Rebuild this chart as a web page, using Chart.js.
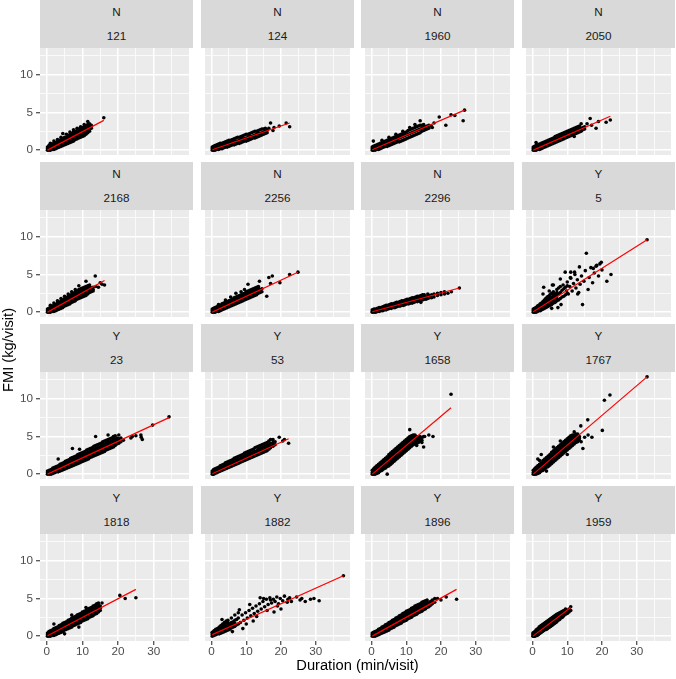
<!DOCTYPE html>
<html>
<head>
<meta charset="utf-8">
<script src="https://cdn.jsdelivr.net/npm/chart.js@4.4.1/dist/chart.umd.min.js"></script>
<style>
  body { margin: 0; background: #fff; width: 676px; height: 679px; position: relative; overflow: hidden;
         font-family: "Liberation Sans", Arial, sans-serif; }
  .strip { position: absolute; background: #D9D9D9; color: #1A1A1A; font-size: 11.7px; text-align: center; }
  .strip div { height: 24px; line-height: 24px; }
  canvas { position: absolute; }
  .axtitle { position: absolute; font-size: 14.7px; color: #000; white-space: nowrap; transform: translate(-50%, -50%); }
</style>
</head>
<body>
<script>
// facet labels
const groups = ['N', 'N', 'N', 'N', 'N', 'N', 'N', 'Y', 'Y', 'Y', 'Y', 'Y', 'Y', 'Y', 'Y', 'Y'];
const ids = ['121', '124', '1960', '2050', '2168', '2256', '2296', '5', '23', '53', '1658', '1767', '1818', '1882', '1896', '1959'];

const xTicks = [0, 5, 10, 15, 20, 25, 30, 35];
const yTicks = [0, 2.5, 5, 7.5, 10, 12.5];

// points, one row per duration: [duration, FMI, FMI, ...]
const c121 = [[0.2,0.0,0.2,0.4],[0.6,0.0,0.2,0.4,0.6],[1.0,0.0,0.2,0.5,0.7,0.9],[1.5,0.1,0.3,0.6,0.8],[2.0,0.1,0.4,0.6,0.9,1.2],[2.5,0.2,0.5,0.8,1.0],[3.0,0.3,0.6,0.9,1.1,1.4],[3.5,0.4,0.7,1.0,1.3],[4.0,0.5,0.8,1.1,1.4,1.7],[4.5,0.6,0.9,1.2,1.5,2.2],[5.0,0.7,1.0,1.3,1.5,1.7],[5.5,0.8,1.1,1.4,1.7,2.1],[6.0,0.9,1.2,1.5,1.7,1.9],[6.5,1.0,1.3,1.6,1.9,2.1,2.4],[7.0,1.1,1.4,1.7,2.0,2.2],[7.5,1.2,1.5,1.8,2.1,2.4,2.7],[8.0,1.4,1.7,1.9,2.2,2.5],[8.5,1.5,1.8,2.1,2.4,2.6,2.9],[9.0,1.6,1.9,2.2,2.5,2.8],[9.5,1.7,2.0,2.3,2.6,2.9,3.1],[10,1.8,2.1,2.4,2.7,3.0],[10.5,1.9,2.2,2.6,2.9,3.1,3.4],[11,2.1,2.4,2.7,3.0,3.2],[11.5,2.3,2.6,2.9,3.2,3.4,3.8],[12,2.5,2.8,3.0,3.3,3.5],[12.5,2.9,3.1,3.3],[16,4.3]];
const c124 = [[0.2,0.0,0.2,0.4],[0.6,0.0,0.2,0.5],[1.0,0.0,0.3,0.6],[1.5,0.1,0.4,0.7],[2.0,0.1,0.4,0.8],[2.5,0.2,0.5,0.9],[3.0,0.2,0.6,0.9],[3.5,0.3,0.6,1.0],[4.0,0.4,0.7,1.1],[4.5,0.4,0.8,1.2],[5.0,0.5,0.9,1.3],[5.5,0.6,0.9,1.3],[6.0,0.7,1.0,1.4],[6.5,0.7,1.1,1.5],[7.0,0.8,1.2,1.6],[7.5,0.9,1.2,1.7],[8.0,0.9,1.3,1.7],[8.5,1.0,1.4,1.8],[9.0,1.1,1.5,1.9],[9.5,1.2,1.5,2.0],[10,1.2,1.6,2.1],[10.5,1.3,1.7,2.1],[11,1.4,1.8,2.2],[11.5,1.5,1.8,2.3],[12,1.6,1.9,2.4],[12.5,1.6,2.0,2.5],[13,1.7,2.1,2.5],[13.5,1.8,2.2,2.6],[14,1.9,2.2,2.7],[14.5,2.0,2.3,2.8],[15,2.1,2.4,2.8],[15.5,2.2,2.5,2.9],[16,2.3,2.6],[16.5,2.9],[17,3.6],[17.7,2.6],[18,3.0],[19.5,3.2],[21.5,3.6],[22.5,3.1]];
const c1960 = [[0.2,0.0,0.2,0.4],[0.5,0.0,0.2,0.5,1.2],[1.0,0.0,0.3,0.6],[1.5,0.1,0.4,0.7],[2.0,0.1,0.5,0.8],[2.5,0.2,0.6,0.9],[3.0,0.3,0.7,1.0,1.3],[3.5,0.4,0.7,1.1],[4.0,0.5,0.8,1.2],[4.5,0.5,0.9,1.3],[5.0,0.6,1.0,1.4,1.7],[5.5,0.7,1.1,1.5],[6.0,0.8,1.2,1.6],[6.5,0.9,1.3,1.7],[7.0,1.0,1.4,1.8,2.1],[7.5,1.1,1.5,1.9],[8.0,1.1,1.6,2.0],[8.5,1.2,1.7,2.1],[9.0,1.3,1.8,2.2,2.5],[9.5,1.4,1.9,2.3],[10,1.5,2.0,2.4],[10.5,1.6,2.1,2.6],[11,1.7,2.2,2.7,3.0],[11.5,1.8,2.3,2.8],[12,1.9,2.4,2.9],[12.5,2.0,2.5,3.0,3.4],[13,2.1,2.6,3.1],[13.5,2.2,2.7,3.2],[14,2.3,2.8,3.3,3.9],[14.5,2.5,2.9,3.3],[15,2.6,3.0,3.4],[15.5,2.7,3.1],[16,2.8,3.2],[16.5,2.9,3.3],[17.2,3.2],[17.5,3.0],[18,3.6],[19.5,4.4],[21.4,3.3],[22.9,4.7],[24,4.6],[26.4,3.9],[26.8,5.3]];
const c2050 = [[0.2,0.0,0.2,0.4],[0.6,0.0,0.3,0.5],[1.0,0.0,0.3,0.6,1.0],[1.5,0.1,0.4,0.7],[2.0,0.1,0.5,0.8],[2.5,0.2,0.6,0.9],[3.0,0.3,0.7,1.0],[3.5,0.4,0.8,1.1],[4.0,0.5,0.9,1.2],[4.5,0.6,1.0,1.3],[5.0,0.7,1.1,1.4],[5.5,0.8,1.2,1.5],[6.0,0.9,1.3,1.6],[6.5,1.0,1.4,1.8],[7.0,1.1,1.5,1.9],[7.5,1.2,1.6,2.0],[8.0,1.3,1.7,2.1],[8.5,1.4,1.8,2.2],[9.0,1.5,1.9,2.3],[9.5,1.6,2.0,2.4],[10,1.7,2.1,2.5],[10.5,1.8,2.2,2.6],[11,1.9,2.3,2.7],[11.5,2.0,2.4,2.8],[12,1.8,2.1,2.5,2.9],[12.5,2.2,2.6,3.0],[13,2.3,2.7,3.1],[13.5,2.4,2.8,3.2],[14,2.5,2.9,3.5],[14.5,2.7,3.0],[15,2.8,3.1],[15.7,3.5],[16.6,4.2],[17,3.3],[18.3,2.9],[19,3.8],[21.2,3.7],[22.4,4.0]];
const c2168 = [[0.2,0.0,0.2,0.4],[0.6,0.0,0.2,0.4,0.5],[1.0,0.0,0.2,0.4,0.6,0.9],[1.5,0.1,0.3,0.5,0.8],[2.0,0.1,0.3,0.5,0.7,0.9,1.2],[2.5,0.2,0.4,0.6,0.8,1.0],[3.0,0.3,0.5,0.8,1.0,1.2,1.5],[3.5,0.4,0.6,0.9,1.1,1.3],[4.0,0.5,0.8,1.0,1.3,1.5,1.8],[4.5,0.6,0.9,1.2,1.4,1.6],[5.0,0.8,1.0,1.3,1.6,1.8,2.1],[5.5,0.9,1.1,1.4,1.7,1.9],[6.0,1.0,1.3,1.6,1.9,2.1,2.4],[6.5,1.1,1.4,1.7,2.0,2.2],[7.0,1.3,1.5,1.8,2.1,2.4,2.7],[7.5,1.4,1.7,2.0,2.3,2.5],[8.0,1.5,1.8,2.1,2.4,2.7,3.0],[8.5,1.7,1.9,2.2,2.5,2.8],[9.0,1.8,2.1,2.4,2.7,3.0,3.5],[9.5,1.9,2.2,2.5,2.8,3.1],[10,2.0,2.3,2.6,2.9,3.2],[10.5,2.1,2.4,2.7,3.0,3.3],[11,2.2,2.5,2.8,3.1,3.4,4.1],[11.5,2.4,2.7,3.0,3.3,3.5],[12,2.6,2.8,3.1,3.4,3.6],[12.5,2.7,3.0,3.2],[13,2.8,3.0,3.3],[13.6,4.8],[13.8,3.4],[14.5,3.3],[15,3.9],[15.5,3.7],[16.2,3.6]];
const c2256 = [[0.2,0.0,0.2,0.4],[0.6,0.0,0.2,0.5],[1.0,0.0,0.3,0.6],[1.5,0.1,0.4,0.7],[2.0,0.1,0.5,0.8,1.0],[2.5,0.2,0.4,0.6,0.9],[3.0,0.3,0.5,0.7,0.9,1.1],[3.5,0.4,0.6,0.8,1.0,1.2],[4.0,0.5,0.7,0.9,1.1,1.3,1.6],[4.5,0.6,0.8,1.0,1.2,1.4],[5.0,0.7,0.9,1.1,1.3,1.5],[5.5,0.8,1.0,1.2,1.4,1.6,2.0],[6.0,0.9,1.1,1.3,1.5,1.7],[6.5,1.0,1.2,1.4,1.7,1.9],[7.0,1.1,1.3,1.5,1.8,2.0,2.5],[7.5,1.2,1.4,1.6,1.9,2.1],[8.0,1.3,1.5,1.7,2.0,2.2],[8.5,1.4,1.6,1.8,2.1,2.3,2.7],[9.0,1.5,1.7,1.9,2.2,2.4],[9.5,1.6,1.8,2.0,2.3,2.5,3.0],[10,1.7,1.9,2.1,2.4,2.7],[10.5,1.8,2.0,2.2,2.5,2.8,3.7],[11,1.9,2.1,2.3,2.6,2.9],[11.5,2.0,2.2,2.5,2.8,3.0],[12,2.1,2.3,2.6,2.9,3.1],[12.5,2.2,2.4,2.7,3.0,3.2],[13,2.3,2.5,2.8,3.1,3.3],[13.5,2.5,2.7,2.9,3.2,3.4],[14,2.6,2.8,3.0],[14.5,2.7,3.1],[13.8,4.1],[15.9,2.1],[16.5,4.6],[17,3.8],[17.5,4.8],[19.7,3.9],[22.5,5.0],[24.9,5.3]];
const c2296 = [[0.2,0.0,0.1,0.3],[0.7,0.0,0.2,0.4],[1.2,0.0,0.2,0.4],[1.7,0.1,0.3,0.5],[2.2,0.1,0.3,0.6],[2.7,0.2,0.4,0.6],[3.2,0.2,0.5,0.7],[3.7,0.3,0.5,0.8],[4.2,0.3,0.6,0.9],[4.7,0.4,0.7,0.9],[5.2,0.5,0.7,1.0],[5.7,0.5,0.8,1.1],[6.2,0.6,0.8,1.1],[6.7,0.6,0.9,1.2],[7.2,0.7,1.0,1.3],[7.7,0.8,1.0,1.3],[8.2,0.8,1.1,1.4],[8.7,0.9,1.1,1.5],[9.2,0.9,1.2,1.5],[9.7,1.0,1.3,1.6],[10.2,1.1,1.3,1.7],[10.7,1.1,1.4,1.7],[11.2,1.2,1.5,1.8],[11.7,1.2,1.5,1.9],[12.2,1.3,1.6,1.9],[12.7,1.4,1.6,2.0],[13.2,1.4,1.7,2.1],[13.7,1.5,1.8,2.1],[14.2,1.3,1.8,2.2],[14.7,1.6,1.9,2.3],[15.2,1.7,2.0,2.3],[15.7,1.7,2.0],[16.2,1.8,2.1,2.4],[16.7,1.9,2.2],[17.3,1.9,2.3],[18,2.0,2.4],[19,2.2,2.5],[20,2.3,2.6],[21,2.4,2.7],[22,2.5],[23,2.7],[25.3,3.2]];
const c5 = [[0.2,0.0,0.2,0.4],[0.6,0.0,0.2,0.4,0.5],[1.0,0.0,0.2,0.4,0.6],[1.4,0.1,0.3,0.5,0.6,0.8],[1.8,0.2,0.4,0.5,0.7,0.9],[2.2,0.2,0.4,0.6,0.9,1.1],[2.6,0.3,0.5,0.8,1.0,1.2],[3.0,0.4,0.6,0.9,1.2,1.4,2.4],[3.2,3.3],[3.4,0.5,0.7,1.0,1.3,1.6],[3.8,0.6,0.9,1.2,1.5,1.8],[4.2,0.7,1.0,1.3,1.6,2.0],[4.6,0.8,1.1,1.4,1.7,2.1],[4.8,2.8],[5.0,0.9,1.2,1.6,1.9,2.3],[5.5,0.5,1.0,1.4,1.7,2.0,2.5],[5.7,3.6],[6.0,1.2,1.5,1.9,2.3,2.7,3.6],[6.5,1.3,1.6,2.0,2.4],[7.0,1.5,1.8,2.2,2.6,3.0],[7.3,0.6],[7.5,1.6,2.4,3.2],[8.0,1.8,2.6,3.4,4.4],[8.2,1.0],[8.5,2.0,2.9],[8.8,3.6],[9.0,2.1,3.1],[9.4,5.3],[9.5,2.3,3.3],[9.8,2.8],[10,2.5,3.5,4.0],[10.3,2.4],[10.7,3.4],[10.9,4.6],[11,4.5,5.3],[11.4,2.8],[11.8,3.8],[12.1,5.3],[12.2,5.0],[12.5,3.2],[12.9,4.3],[13.0,2.4],[13.3,2.6],[13.5,6.0],[13.7,3.7],[14.1,4.8],[14.4,1.0],[14.8,4.1],[15.2,5.5],[15.5,7.8],[16,3.0],[16.3,4.6],[16.8,5.9],[17.3,3.9],[17.5,5.8],[17.8,5.2],[18.3,6.1],[18.5,6.2],[19,4.8],[19.4,6.4],[19.8,6.6],[20,5.6],[21.4,4.1],[22.6,5.0],[33,9.6]];
const c23 = [[0.2,0.0,0.2,0.4],[0.7,0.0,0.2,0.4,0.5],[1.2,0.0,0.3,0.5,0.6],[1.7,0.1,0.4,0.6,0.8],[2.2,0.2,0.5,0.7,0.9],[2.7,0.3,0.6,0.8,1.0],[3.2,0.3,0.5,0.7,0.9,1.1,2.0],[3.7,0.4,0.6,0.8,1.0,1.3],[4.2,0.5,0.7,0.9,1.2,1.4],[4.7,0.6,0.8,1.0,1.3,1.5],[5.2,0.7,0.9,1.1,1.4,1.7],[5.7,0.8,1.0,1.3,1.5,1.8],[6.2,0.9,1.1,1.4,1.7,1.9],[6.7,1.0,1.2,1.5,1.8,2.1],[7.2,1.1,1.3,1.6,1.9,2.2,3.4],[7.7,1.2,1.4,1.7,2.0,2.3],[8.2,1.3,1.5,1.8,2.1,2.4],[8.7,1.4,1.6,1.9,2.2,2.6],[9.2,1.5,1.7,2.0,2.4,2.7,3.3],[9.7,1.6,1.8,2.1,2.5,2.8],[10.2,1.7,1.9,2.2,2.6,2.9],[10.7,1.8,2.1,2.4,2.7,3.0],[11.2,1.9,2.2,2.5,2.8,3.2],[11.7,2.0,2.3,2.6,2.9,3.3],[12.2,2.2,2.4,2.7,3.0,3.4],[12.7,2.3,2.5,2.8,3.2,3.5],[13.2,2.4,2.6,2.9,3.3,3.7],[13.7,2.5,2.7,3.0,3.4,3.8,5.0],[14.2,2.6,2.8,3.1,3.5,3.9],[14.7,2.7,2.9,3.2,3.6,4.0],[15.2,2.8,3.1,3.4,3.7,4.1],[15.7,2.9,3.2,3.5,3.9,4.3],[16.2,3.0,3.3,3.6,4.0,4.4],[16.7,3.2,3.4,3.7,4.1,4.5],[17.2,3.3,3.5,3.8,4.2,4.6,5.2],[17.7,3.4,3.6,3.9,4.3,4.7],[18.2,3.5,3.7,4.0,4.4,4.8],[18.7,3.6,3.9,4.2,4.6,5.0],[19.2,3.8,4.0,4.3,4.7,5.1],[19.7,4.0,4.2,4.5,4.8],[20.2,4.1,4.4,4.7,5.2],[20.8,4.3,4.8],[21.5,4.5],[23.6,4.8],[24,5.0],[25,5.1],[26.4,5.2],[26.5,4.9],[26.8,4.6],[29.7,6.5],[34.3,7.6]];
const c53 = [[0.2,0.0,0.2,0.4],[0.6,0.0,0.2,0.4,0.6],[1.0,0.1,0.3,0.5,0.7],[1.5,0.2,0.4,0.6,0.8],[2.0,0.3,0.5,0.7,0.9],[2.5,0.4,0.6,0.8,1.1],[3.0,0.5,0.7,0.9,1.2],[3.5,0.6,0.8,1.0,1.3],[4.0,0.7,0.9,1.2,1.5],[4.5,0.8,1.0,1.3,1.6],[5.0,0.9,1.1,1.4,1.7],[5.5,1.0,1.2,1.5,1.8],[6.0,1.1,1.3,1.6,1.9],[6.5,1.2,1.4,1.7,2.1],[7.0,1.3,1.5,1.8,2.2],[7.5,1.4,1.6,1.9,2.3],[8.0,1.5,1.7,2.0,2.4],[8.5,1.6,1.8,2.1,2.5],[9.0,1.7,1.9,2.3,2.6],[9.5,1.8,2.0,2.4,2.8],[10,1.9,2.1,2.5,2.9],[10.5,2.0,2.2,2.6,3.0],[11,2.1,2.3,2.7,3.1],[11.5,2.2,2.4,2.8,3.2],[12,2.3,2.5,2.9,3.3],[12.5,2.4,2.7,3.0,3.5],[13,2.5,2.8,3.1,3.6],[13.5,2.6,2.9,3.3,3.7],[14,2.7,3.0,3.4,3.8],[14.5,2.8,3.1,3.5,3.9],[15,2.9,3.2,3.6,4.0],[15.5,3.0,3.3,3.7,4.1],[16,3.1,3.4,3.8,4.2],[16.5,3.3,3.6,3.9,4.4],[17,3.5,3.7,4.1,4.6],[17.7,3.7,3.9,4.2,4.6],[18.3,3.9,4.3],[19.5,4.9],[20.5,4.4],[21,4.6],[22.2,4.1]];
const c1658 = [[0.2,0.0,0.2,0.5],[0.6,0.0,0.2,0.4,0.7],[1.0,0.0,0.2,0.4,0.7,0.9],[1.5,0.1,0.3,0.6,0.8,1.1],[2.0,0.2,0.5,0.8,1.0,1.3],[2.5,0.4,0.7,1.0,1.2,1.5],[3.0,0.5,0.8,1.1,1.4,1.7],[3.5,0.7,1.0,1.3,1.6,1.9],[4.0,0.8,1.1,1.5,1.8,2.1],[4.5,0.0,1.0,1.3,1.7,2.0,2.3],[5.0,1.1,1.5,1.9,2.2,2.6],[5.5,1.3,1.7,2.1,2.4,2.8],[6.0,1.5,1.9,2.3,2.6,3.0],[6.5,1.7,2.1,2.5,2.8,3.2],[7.0,1.9,2.3,2.7,3.0,3.4],[7.5,2.1,2.5,2.9,3.2,3.6],[8.0,2.3,2.7,3.1,3.4,3.8],[8.5,2.5,2.9,3.3,3.6,4.0],[9.0,2.7,3.1,3.5,3.8,4.2],[9.5,2.9,3.3,3.7,4.0,4.4],[10,3.1,3.5,3.9,4.2,4.6],[10.5,3.3,3.6,4.0,4.4,4.8],[11,3.5,3.8,4.2,4.6,5.0,5.9],[11.5,3.7,4.0,4.4,4.8,5.1],[12,3.9,4.2,4.6,4.9,5.2],[12.5,4.0,4.4,4.7,5.0,5.2],[13,3.8,4.1,4.4,4.7,5.0],[13.5,4.2,4.5,4.8],[14,4.4,4.7,5.0],[14.5,4.2,4.5,4.8],[15,3.6,5.0],[15.3,5.0],[16.5,5.2],[17.7,5.0],[22.9,10.6]];
const c1767 = [[0.2,0.0,0.2,0.5],[0.6,0.0,0.2,0.5,0.7],[1.0,0.0,0.2,0.4,0.7,0.9],[1.5,0.1,0.3,0.6,0.9,1.1,2.0],[2.0,0.2,0.5,0.8,1.1,1.3,1.8],[2.5,0.4,0.7,1.0,1.3,1.5,2.6],[3.0,0.5,0.8,1.2,1.5,1.8],[3.5,0.7,1.0,1.4,1.7,2.0],[4.0,0.4,0.9,1.2,1.6,1.9,2.2],[4.5,1.0,1.4,1.8,2.1,2.4],[5.0,1.2,1.6,1.9,2.3,2.6],[5.5,1.4,1.8,2.1,2.5,2.9],[6.0,1.6,2.0,2.3,2.7,3.1,3.6],[6.5,1.8,2.2,2.5,2.9,3.3],[7.0,2.0,2.4,2.7,3.1,3.5],[7.5,2.2,2.6,2.9,3.3,3.7],[8.0,2.4,2.8,3.1,3.5,3.9,4.4],[8.5,2.6,3.0,3.3,3.7,4.1],[9.0,2.8,3.2,3.5,3.9,4.3],[9.5,3.0,3.4,3.7,4.1,4.5],[10,2.6,3.2,3.6,3.9,4.3,4.7],[10.5,3.4,3.8,4.1,4.5,4.9],[11,3.6,4.0,4.3,4.7,5.1],[11.5,3.8,4.2,4.5,4.9,5.2],[12,4.0,4.4,4.7,5.0,5.2,5.6],[12.5,4.2,4.5,4.8,5.1,5.3],[13,4.3,4.6,4.9,5.3],[13.5,4.5,4.8,5.0],[13.9,6.4],[14,4.3],[14.5,3.4],[15,4.9],[15.9,7.2],[16,5.2],[17.1,4.9],[20.1,5.8],[20.7,9.8],[22.3,10.5],[33,12.9]];
const c1818 = [[0.2,0.0,0.2,0.4],[0.6,0.0,0.2,0.4,0.6],[1.0,0.0,0.2,0.4,0.7],[1.5,0.1,0.3,0.5,0.8],[2.0,0.1,0.3,0.5,0.8,1.0,1.6],[2.5,0.2,0.4,0.7,0.9,1.1],[3.0,0.3,0.5,0.8,1.0,1.2],[3.5,0.4,0.6,0.9,1.2,1.4],[4.0,0.5,0.7,1.0,1.3,1.5],[4.5,0.6,0.9,1.2,1.4,1.7],[5.0,0.3,0.8,1.0,1.3,1.6,1.8],[5.5,0.9,1.1,1.4,1.7,1.9],[6.0,1.0,1.2,1.5,1.8,2.1],[6.5,1.1,1.3,1.6,1.9,2.2],[7.0,1.2,1.5,1.8,2.1,2.4,2.8],[7.5,1.4,1.6,1.9,2.2,2.5],[8.0,1.5,1.7,2.0,2.3,2.6],[8.5,1.6,1.9,2.2,2.5,2.8],[9.0,1.2,1.7,2.0,2.3,2.6,2.9],[9.5,1.8,2.1,2.4,2.7,3.0],[10,2.0,2.2,2.5,2.8,3.2],[10.5,2.1,2.3,2.6,3.0,3.3],[11,2.2,2.5,2.8,3.1,3.4,3.8],[11.5,2.3,2.6,2.9,3.3,3.6],[12,2.5,2.7,3.0,3.4,3.7],[12.5,2.6,2.8,3.1,3.5,3.8],[13,2.7,3.0,3.3,3.7,4.0],[13.5,2.9,3.1,3.4,3.8,4.1],[14,3.0,3.3,3.6,4.0,4.3],[14.5,3.2,3.5,3.8,4.1,4.4],[15,3.4,3.7,4.0],[15.5,4.4],[20.5,5.4],[22,5.0],[25,5.1]];
const c1882 = [[0.2,0.0,0.2,0.4,0.5],[0.7,0.1,0.3,0.4,0.6,0.7],[1.2,0.2,0.4,0.5,0.7,0.9],[1.7,0.3,0.5,0.6,0.8,1.0],[2.2,0.3,0.5,0.7,1.0,1.2],[2.7,0.4,0.6,0.9,1.1,1.4],[3.0,2.2],[3.2,0.5,0.8,1.0,1.3,1.6],[3.7,0.6,0.9,1.1,1.5,1.8],[4.2,0.7,1.0,1.3,1.7,2.0],[4.7,0.8,1.1,1.4,1.8,2.1],[5.2,0.9,1.3,1.6],[5.7,1.1,1.5,1.8,2.4],[6.0,0.6],[6.2,1.2,1.6,1.9],[6.7,1.3,1.7,2.1,2.8],[7.2,1.5,2.2],[7.7,1.6,2.4,3.1],[8.0,3.5],[8.3,1.8],[8.8,2.8],[9.0,1.0],[9.3,2.1],[9.8,3.1],[10.0,1.6],[10.3,2.4],[10.8,3.4],[11.0,4.2],[11.3,2.7],[11.8,3.7],[12.0,2.0],[12.3,3.0],[12.8,4.0],[13.0,2.6],[13.3,3.3],[13.8,4.3],[14.0,5.1],[14.3,3.6],[14.8,4.6],[15.0,5.0],[15.3,3.9],[15.8,4.9],[16.0,3.4],[16.3,4.2],[16.8,5.1],[17.0,4.8],[17.3,4.4],[17.8,4.9],[18.0,3.2],[18.3,4.6],[18.8,5.2],[19.0,4.0],[19.3,4.3],[19.8,5.0],[20.0,3.6],[20.5,4.7],[21,5.3],[21.8,4.5],[22.0,4.9],[22.5,5.1],[23,4.6],[24.5,5.2],[25.5,4.8],[26,5.0],[27,4.6],[28.5,4.9],[29.5,5.0],[31,4.7],[38,8.0]];
const c1896 = [[0.2,0.0,0.2,0.4],[0.6,0.0,0.2,0.4,0.5],[1.0,0.0,0.2,0.4,0.6],[1.5,0.1,0.3,0.5,0.7],[2.0,0.2,0.4,0.6,0.9],[2.5,0.3,0.5,0.7,1.0],[3.0,0.4,0.6,0.8,1.0,1.2],[3.5,0.5,0.7,0.9,1.1,1.3],[4.0,0.6,0.8,1.1,1.3,1.5],[4.5,0.7,0.9,1.2,1.4,1.6],[5.0,0.8,1.0,1.3,1.6,1.8],[5.5,1.0,1.2,1.5,1.7,1.9],[6.0,1.1,1.3,1.6,1.9,2.1],[6.5,1.2,1.4,1.7,2.0,2.2],[7.0,1.4,1.6,1.9,2.2,2.4],[7.5,1.5,1.7,2.0,2.3,2.5],[8.0,1.6,1.8,2.1,2.4,2.7],[8.5,1.7,2.0,2.3,2.6,2.8],[9.0,1.9,2.1,2.4,2.7,3.0],[9.5,2.0,2.2,2.5,2.8,3.1],[10,2.1,2.4,2.7,3.0,3.3],[10.5,2.3,2.5,2.8,3.1,3.4],[11,2.4,2.6,2.9,3.2,3.5],[11.5,2.5,2.8,3.1,3.4,3.7],[12,2.7,2.9,3.2,3.5,3.8],[12.5,2.8,3.0,3.3,3.7,4.0],[13,2.9,3.2,3.5,3.8,4.1],[13.5,3.1,3.3,3.6,3.9,4.2],[14,3.2,3.4,3.7,4.0,4.3],[14.5,3.3,3.6,3.9,4.2,4.5],[15,3.5,3.7,4.0,4.3,4.6],[15.5,3.6,3.8,4.1,4.4,4.7],[16,3.8,4.0,4.3,4.6,4.8],[16.5,3.9,4.2,4.4],[17,4.1,4.3,4.6],[17.5,4.3,4.5,4.8],[18.2,4.5,5.0],[19,5.0],[20,4.8],[21.5,5.2],[24.5,4.9]];
const c1959 = [[0.1,0.0,0.2,0.4],[0.4,0.0,0.2,0.4,0.5],[0.7,0.0,0.2,0.4,0.6],[1.0,0.1,0.3,0.5,0.8],[1.3,0.1,0.3,0.5,0.7,0.9],[1.6,0.2,0.4,0.6,0.8,1.0],[1.9,0.3,0.5,0.7,1.0,1.2],[2.2,0.4,0.6,0.8,1.1,1.3],[2.5,0.5,0.7,0.9,1.2,1.4],[2.8,0.6,0.8,1.0,1.3,1.5],[3.1,0.7,0.9,1.1,1.4,1.6],[3.4,0.8,1.0,1.2,1.5,1.7],[3.7,0.9,1.1,1.3,1.6,1.8],[4.0,0.9,1.2,1.4,1.7,1.9],[4.3,1.0,1.3,1.5,1.8,2.0],[4.6,1.1,1.4,1.6,1.9,2.1],[4.9,1.2,1.5,1.7,2.0,2.2],[5.2,1.3,1.6,1.8,2.1,2.3],[5.5,1.4,1.7,1.9,2.2,2.4],[5.8,1.5,1.8,2.0,2.3,2.5],[6.1,1.6,1.9,2.1,2.4,2.6],[6.4,1.7,2.0,2.2,2.5,2.7],[6.7,1.8,2.1,2.3,2.6,2.8],[7.0,1.9,2.2,2.4,2.7,2.9],[7.4,2.1,2.3,2.5,2.8,3.0],[7.8,2.2,2.5,2.7,2.9,3.1],[8.2,2.4,2.6,2.8,3.0,3.2],[8.6,2.5,2.7,2.9,3.1,3.3],[9.0,2.7,2.9,3.1,3.4],[9.5,2.9,3.1,3.2,3.6],[10,3.0,3.2,3.4],[10.5,3.2,3.4,3.6],[11,3.4,3.9]];

// fitted line end points per panel
const fits = [
  [[0.2, 0.0], [16, 3.95]],
  [[0.2, 0.05], [22.5, 3.6]],
  [[0.2, 0.05], [26.8, 5.3]],
  [[0.2, 0.0], [22.4, 4.5]],
  [[0.2, 0.0], [16.2, 4.2]],
  [[0.2, 0.0], [24.9, 5.3]],
  [[0.2, 0.05], [25.3, 3.2]],
  [[0.2, 0.05], [33, 9.6]],
  [[0.2, 0.0], [34.3, 7.5]],
  [[0.2, 0.05], [22.2, 4.7]],
  [[0.2, 0.0], [22.9, 8.8]],
  [[0.2, 0.0], [33, 12.9]],
  [[0.2, 0.05], [25, 6.2]],
  [[0.2, 0.2], [38, 8.0]],
  [[0.2, 0.0], [24.5, 6.2]],
  [[0.1, 0.0], [11, 3.8]]
];

const columns = [c121, c124, c1960, c2050, c2168, c2256, c2296, c5, c23, c53, c1658, c1767, c1818, c1882, c1896, c1959];

// layout of the facet grid
const colLeft = [40, 201, 361, 522];
const rowTop = [0, 162, 324, 486];
const panelW = 153;
const stripH = 48;
const panelH = 107;
const yAxisW = 40;
const xAxisH = 20;
const pad = 6;

const panelBg = {
  id: 'panelBg',
  beforeDraw(chart) {
    const a = chart.chartArea;
    const ctx = chart.ctx;
    ctx.save();
    ctx.fillStyle = '#EBEBEB';
    ctx.fillRect(a.left, a.top, a.right - a.left, a.bottom - a.top);
    ctx.restore();
  }
};

function toPoints(rows) {
  const out = [];
  rows.forEach(row => {
    for (let k = 1; k < row.length; k++) out.push({ x: row[0], y: row[k] });
  });
  return out;
}

function addText(cls, text, left, top, extra) {
  const d = document.createElement('div');
  d.className = cls;
  d.textContent = text;
  d.style.left = left + 'px';
  d.style.top = top + 'px';
  if (extra) d.style.transform = extra;
  document.body.appendChild(d);
  return d;
}

for (let i = 0; i < ids.length; i++) {
  const r = Math.floor(i / 4);
  const c = i % 4;
  const firstCol = c === 0;
  const lastRow = r === 3;

  // strip: two stacked facet labels
  const strip = document.createElement('div');
  strip.className = 'strip';
  strip.style.left = colLeft[c] + 'px';
  strip.style.top = rowTop[r] + 'px';
  strip.style.width = panelW + 'px';
  strip.style.height = stripH + 'px';
  strip.innerHTML = '<div></div><div></div>';
  strip.children[0].textContent = groups[i];
  strip.children[1].textContent = ids[i];
  document.body.appendChild(strip);

  const cv = document.createElement('canvas');
  const w = panelW + (firstCol ? yAxisW : 0);
  const h = panelH + pad + (lastRow ? xAxisH + 2 : pad);
  cv.width = w;
  cv.height = h;
  cv.style.left = (firstCol ? colLeft[c] - yAxisW : colLeft[c]) + 'px';
  cv.style.top = (rowTop[r] + stripH - pad) + 'px';
  cv.style.width = w + 'px';
  cv.style.height = h + 'px';
  document.body.appendChild(cv);

  new Chart(cv.getContext('2d'), {
    type: 'scatter',
    data: {
      datasets: [
        {
          data: fits[i].map(p => ({ x: p[0], y: p[1] })),
          showLine: true,
          borderColor: '#FF0000',
          borderWidth: 1.2,
          pointRadius: 0
        },
        {
          data: toPoints(columns[i]),
          pointRadius: 1.8,
          pointBackgroundColor: '#000000',
          pointBorderWidth: 0
        }
      ]
    },
    options: {
      responsive: false,
      animation: false,
      devicePixelRatio: 1,
      layout: { padding: { top: pad, bottom: lastRow ? 2 : pad, left: 0, right: 0 } },
      plugins: { legend: { display: false }, tooltip: { enabled: false } },
      scales: {
        x: {
          type: 'linear',
          min: -1.9,
          max: 39.9,
          afterBuildTicks: s => { s.ticks = xTicks.map(v => ({ value: v })); },
          afterFit: s => {
            s.height = lastRow ? xAxisH : 0;
            s.paddingLeft = 0; s.paddingRight = 0; s.paddingTop = 0; s.paddingBottom = 0;
          },
          border: { display: false },
          grid: {
            color: '#FFFFFF',
            lineWidth: ctx => (ctx.tick && ctx.tick.value % 10 === 0 ? 1.5 : 0.75),
            drawTicks: lastRow,
            tickLength: 4,
            tickColor: ctx => (ctx.tick && ctx.tick.value % 10 === 0 ? '#333333' : 'rgba(0,0,0,0)'),
            tickWidth: ctx => (ctx.tick && ctx.tick.value % 10 === 0 ? 1.1 : 0)
          },
          ticks: {
            display: lastRow,
            autoSkip: false,
            maxRotation: 0,
            padding: 0,
            color: '#4D4D4D',
            font: { family: 'Liberation Sans', size: 11.7 },
            callback: v => (v % 10 === 0 ? String(v) : '')
          }
        },
        y: {
          type: 'linear',
          min: -0.645,
          max: 13.545,
          afterBuildTicks: s => { s.ticks = yTicks.map(v => ({ value: v })); },
          afterFit: s => {
            s.width = firstCol ? yAxisW : 0;
            s.paddingLeft = 0; s.paddingRight = 0; s.paddingTop = 0; s.paddingBottom = 0;
          },
          border: { display: false },
          grid: {
            color: '#FFFFFF',
            lineWidth: ctx => (ctx.tick && ctx.tick.value % 5 === 0 ? 1.5 : 0.75),
            drawTicks: firstCol,
            tickLength: 4,
            tickColor: ctx => (ctx.tick && ctx.tick.value % 5 === 0 ? '#333333' : 'rgba(0,0,0,0)'),
            tickWidth: ctx => (ctx.tick && ctx.tick.value % 5 === 0 ? 1.1 : 0)
          },
          ticks: {
            display: firstCol,
            autoSkip: false,
            padding: 3,
            color: '#4D4D4D',
            font: { family: 'Liberation Sans', size: 11.7 },
            callback: v => (v % 5 === 0 ? String(v) : '')
          }
        }
      }
    },
    plugins: [panelBg]
  });
}

// axis titles
addText('axtitle', 'Duration (min/visit)', 357.5, 665);
addText('axtitle', 'FMI (kg/visit)', 8, 350, 'translate(-50%, -50%) rotate(-90deg)');
</script>
</body>
</html>
